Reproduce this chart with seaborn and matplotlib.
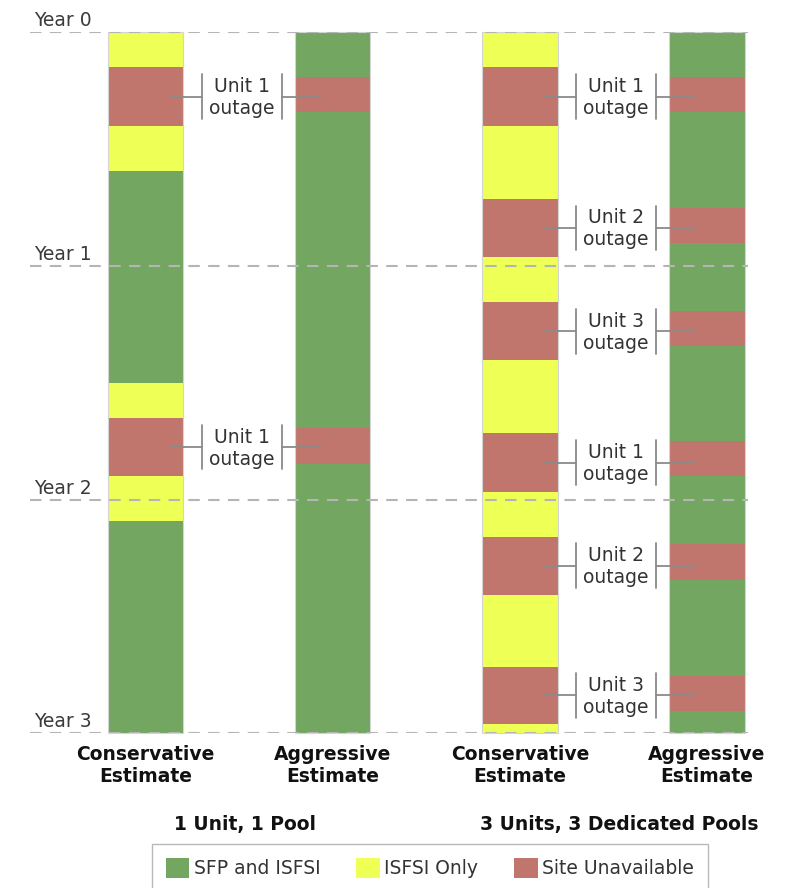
import matplotlib
matplotlib.use("Agg")
import pandas as pd
import matplotlib.pyplot as plt
import seaborn as sns
from matplotlib.patches import Patch

# segment lengths in months, read from year 0 (top) down to year 3
# states: S = SFP and ISFSI, I = ISFSI Only, X = Site Unavailable
cons_1u_months = [1.8, 3.0, 2.3, 10.9, 1.8, 3.0, 2.3, 10.9]
cons_1u_state = ['I', 'X', 'I', 'S', 'I', 'X', 'I', 'S']
aggr_1u_months = [2.3, 1.8, 16.2, 1.85, 13.85]
aggr_1u_state = ['S', 'X', 'S', 'X', 'S']
cons_3u_months = [1.8, 3.0, 3.75, 3.0, 2.3, 3.0, 3.75, 3.0, 2.3, 3.0, 3.7, 2.9, 0.5]
cons_3u_state = ['I', 'X', 'I', 'X', 'I', 'X', 'I', 'X', 'I', 'X', 'I', 'X', 'I']
aggr_3u_months = [2.3, 1.8, 4.9, 1.8, 3.5, 1.8, 4.9, 1.8, 3.5, 1.85, 4.9, 1.8, 1.15]
aggr_3u_state = ['S', 'X', 'S', 'X', 'S', 'X', 'S', 'X', 'S', 'X', 'S', 'X', 'S']

bar_labels = ['Conservative\nEstimate', 'Aggressive\nEstimate',
              'Conservative\nEstimate', 'Aggressive\nEstimate']
group_labels = ['1 Unit, 1 Pool', '3 Units, 3 Dedicated Pools']
outage_1u = ['Unit 1', 'Unit 1']
outage_3u = ['Unit 1', 'Unit 2', 'Unit 3', 'Unit 1', 'Unit 2', 'Unit 3']
year_labels = ['Year 0', 'Year 1', 'Year 2', 'Year 3']

state_names = {'S': 'SFP and ISFSI', 'I': 'ISFSI Only', 'X': 'Site Unavailable'}
palette = {'S': '#73a660', 'I': '#eeff55', 'X': '#c0766d'}

# long table of segments, one row per coloured block
rows = []
bars = [(cons_1u_months, cons_1u_state), (aggr_1u_months, aggr_1u_state),
        (cons_3u_months, cons_3u_state), (aggr_3u_months, aggr_3u_state)]
for i, (months, states) in enumerate(bars):
    start = 0.0
    for m, s in zip(months, states):
        rows.append({'bar': i, 'start': start, 'length': m, 'state': s})
        start += m
seg = pd.DataFrame(rows)

sns.set_theme(style='white')
plt.rcParams['font.family'] = ['DejaVu Sans']
fs = 13.5

fig = plt.figure(figsize=(7.86, 8.88), dpi=100)
# axes spans the dashed year lines; bars at x = 0..3
ax = fig.add_axes([30 / 786, 1 - 733.3 / 888, 718 / 786, 701 / 888])
ax.set_xlim(-0.617, 3.219)
ax.set_ylim(36, 0)
ax.axis('off')

bw = 0.403
for _, r in seg.iterrows():
    ax.bar(r['bar'], r['length'], bottom=r['start'], width=bw,
           color=palette[r['state']], edgecolor='none', zorder=2, clip_on=False)
for i in range(4):
    ax.bar(i, 36, bottom=0, width=bw, fill=False, edgecolor='#d4d4d4',
           linewidth=0.8, zorder=3, clip_on=False)

# dashed year lines on top of bars
for k, lab in enumerate(year_labels):
    ax.axhline(k * 12, color='#b5b5b5', lw=1.5, ls=(0, (5.5, 4)), zorder=4)
    ax.annotate(lab, xy=(0, k * 12), xycoords=('axes fraction', 'data'),
                xytext=(3, 1.5), textcoords='offset points', ha='left', va='bottom',
                fontsize=fs, color='#3a3a3a', annotation_clip=False)

# outage brackets between each pair of bars
def outage_marks(cons_idx, labels):
    sub = seg[(seg['bar'] == cons_idx) & (seg['state'] == 'X')]
    for (_, r), lab in zip(sub.iterrows(), labels):
        yc = r['start'] + r['length'] / 2
        x0 = cons_idx
        lc = '#8a8a8a'
        ax.plot([x0 + 0.13, x0 + 0.30], [yc, yc], color=lc, lw=1.3, zorder=5)
        ax.plot([x0 + 0.30, x0 + 0.30], [yc - 1.15, yc + 1.15], color=lc, lw=1.3, zorder=5)
        ax.plot([x0 + 0.73, x0 + 0.73], [yc - 1.15, yc + 1.15], color=lc, lw=1.3, zorder=5)
        ax.plot([x0 + 0.73, x0 + 0.93], [yc, yc], color=lc, lw=1.3, zorder=5)
        ax.text(x0 + 0.515, yc + 0.05, lab + '\noutage', ha='center', va='center',
                fontsize=fs, color='#333333', linespacing=1.2, zorder=5)

outage_marks(0, outage_1u)
outage_marks(2, outage_3u)

for i, lab in enumerate(bar_labels):
    ax.text(i, 36 + 1.65, lab, ha='center', va='center', fontsize=fs,
            fontweight='bold', color='#111111', linespacing=1.22, clip_on=False)

for x, lab in zip([0.53, 2.53], group_labels):
    ax.text(x, 36 + 4.7, lab, ha='center', va='center', fontsize=fs,
            fontweight='bold', color='#111111', clip_on=False)

handles = [Patch(facecolor=palette[k], edgecolor='none', label=state_names[k])
           for k in ['S', 'I', 'X']]
leg = fig.legend(handles=handles, loc='upper center', ncol=3,
                 bbox_to_anchor=(430 / 786, 1 - 844 / 888), bbox_transform=fig.transFigure,
                 frameon=True, fancybox=False, fontsize=fs, handlelength=1.25,
                 handleheight=1.25, handletextpad=0.25, columnspacing=1.9,
                 borderpad=0.75, borderaxespad=0)
leg.get_frame().set_edgecolor('#a8a8a8')
leg.get_frame().set_linewidth(1.0)
for t in leg.get_texts():
    t.set_color('#333333')

fig.savefig('out.png', dpi=100)
